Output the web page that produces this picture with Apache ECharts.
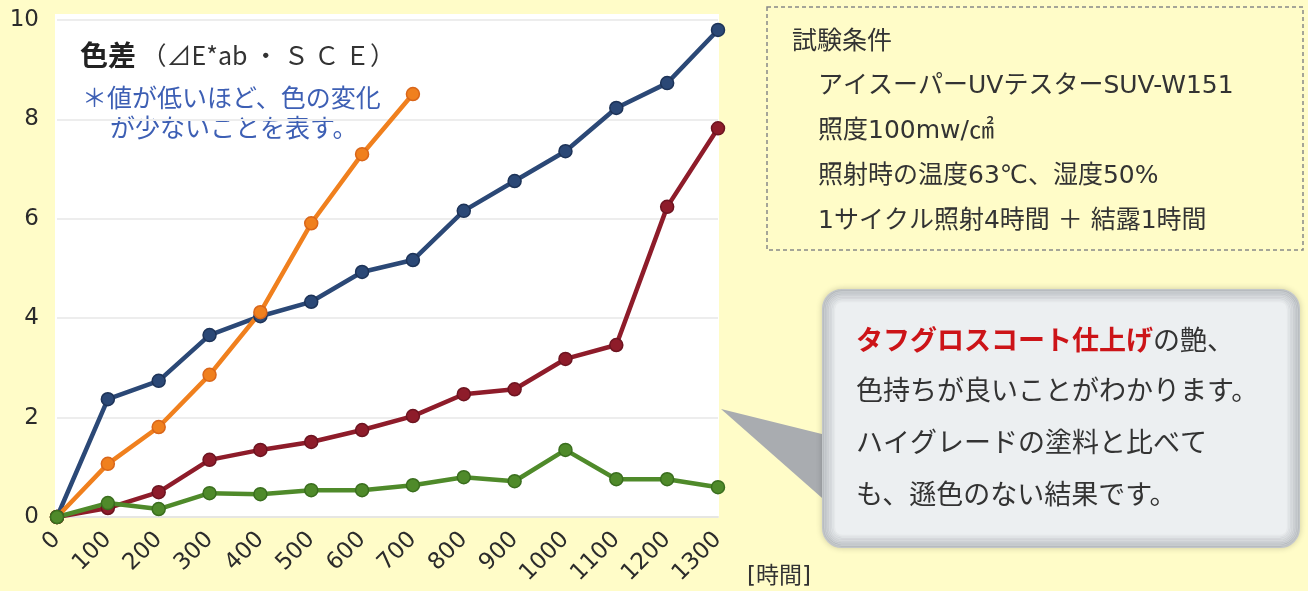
<!DOCTYPE html>
<html>
<head>
<meta charset="utf-8">
<script src="https://cdn.jsdelivr.net/npm/echarts@6/dist/echarts.min.js"></script>
<style>
  html, body { margin: 0; padding: 0; background: #fffcc8; }
  #chart { width: 1308px; height: 591px; }
</style>
</head>
<body>
<div id="chart"></div>
<script>
const hours = ['0', '100', '200', '300', '400', '500', '600', '700', '800', '900', '1000', '1100', '1200', '1300']
const yTicks = [0, 2, 4, 6, 8, 10]
// 系列ごとの色差
const navyValues = [0, 2.37, 2.74, 3.66, 4.04, 4.33, 4.93, 5.17, 6.16, 6.76, 7.36, 8.23, 8.73, 9.8]
const orangeValues = [0, 1.07, 1.81, 2.86, 4.12, 5.91, 7.3, 8.51]
const redValues = [0, 0.18, 0.5, 1.15, 1.35, 1.51, 1.75, 2.03, 2.47, 2.57, 3.18, 3.46, 6.24, 7.82]
const greenValues = [0, 0.28, 0.16, 0.48, 0.46, 0.54, 0.54, 0.64, 0.8, 0.72, 1.35, 0.76, 0.76, 0.6]
const conditions = [
  'アイスーパーUVテスターSUV-W151',
  '照度100mw/㎠',
  '照射時の温度63℃、湿度50%',
  '1サイクル照射4時間 ＋ 結露1時間',
]
const calloutLines = [
  '色持ちが良いことがわかります。',
  'ハイグレードの塗料と比べて',
  'も、遜色のない結果です。',
]

const font = '"DejaVu Sans", "Noto Sans CJK JP", sans-serif'
const jpFont = '"Noto Sans CJK JP", sans-serif'

function lineSeries(name, data, color, border) {
  return {
    name: name,
    type: 'line',
    data: data,
    symbol: 'circle',
    symbolSize: 13,
    lineStyle: { color: color, width: 4.5 },
    itemStyle: { color: color, borderColor: border, borderWidth: 1.5 },
    animation: false,
  }
}

function textEl(text, x, y, size, color) {
  return {
    type: 'text',
    style: {
      text: text, x: x, y: y, fontSize: size, fill: color || '#333',
      fontFamily: font, verticalAlign: 'middle',
    },
  }
}

// 吹き出しの縁のぼかし（内側へ薄くなる枠線を重ねる）
const edgeRings = []
for (let k = 0; k < 8; k++) {
  const d = k * 1.6 + 1
  edgeRings.push({
    type: 'rect',
    shape: { x: 822 + d, y: 289 + d, width: 478 - 2 * d, height: 259 - 2 * d, r: Math.max(20 - d, 6) },
    style: { fill: 'none', stroke: 'rgba(135,140,146,' + (0.42 - k * 0.05) + ')', lineWidth: 2 },
  })
}

const myChart = echarts.init(document.getElementById('chart'))
const option = {
  backgroundColor: '#fffcc8',
  textStyle: { fontFamily: font },
  grid: { left: 57, right: 590, top: 20, bottom: 74 },
  xAxis: {
    type: 'category',
    boundaryGap: false,
    data: hours,
    axisLine: { show: true, lineStyle: { color: '#e6e6e2', width: 2 } },
    axisTick: { show: false },
    axisLabel: {
      rotate: 45,
      margin: 19,
      fontSize: 23,
      color: '#2b2b2b',
      fontFamily: font,
    },
  },
  yAxis: {
    type: 'value',
    min: yTicks[0],
    max: yTicks[yTicks.length - 1],
    interval: 2,
    axisLine: { show: false },
    axisTick: { show: false },
    splitLine: { lineStyle: { color: '#ededed', width: 2 } },
    axisLabel: {
      margin: 18,
      fontSize: 23,
      color: '#2b2b2b',
      fontFamily: font,
    },
  },
  graphic: [
    // 白いプロット背景
    {
      type: 'rect',
      z: -10,
      shape: { x: 55, y: 14, width: 664, height: 504 },
      style: { fill: '#ffffff' },
    },
    {
      type: 'text',
      style: {
        x: 80, y: 55, verticalAlign: 'middle',
        text: '{b|色差}{n| （⊿E*ab ・ Ｓ Ｃ Ｅ）}',
        rich: {
          b: { fontSize: 28, fontWeight: 'bold', fill: '#222', fontFamily: jpFont },
          n: { fontSize: 25, fill: '#333', fontFamily: jpFont },
        },
      },
    },
    textEl('＊値が低いほど、色の変化', 82, 100, 25, '#3d5fb4'),
    textEl('が少ないことを表す。', 110, 130, 25, '#3d5fb4'),
    // 試験条件の枠
    {
      type: 'rect',
      shape: { x: 767, y: 7, width: 536, height: 243 },
      style: { fill: 'none', stroke: '#888', lineWidth: 1.5, lineDash: [4, 3] },
    },
    textEl('試験条件', 792, 42, 25),
    ...conditions.map((t, i) => textEl(t, 818, 86 + i * 45.3, 25)),
    // 吹き出し
    {
      type: 'polygon',
      shape: { points: [[721, 409], [830, 436], [830, 505]] },
      style: { fill: '#a9acb0' },
    },
    {
      type: 'rect',
      shape: { x: 822, y: 289, width: 478, height: 259, r: 20 },
      style: { fill: '#eceff1', shadowBlur: 6, shadowColor: 'rgba(0,0,0,0.2)' },
    },
    ...edgeRings,
    {
      type: 'text',
      style: {
        x: 856, y: 340, verticalAlign: 'middle',
        text: '{r|タフグロスコート仕上げ}{n|の艶、}',
        rich: {
          r: { fontSize: 27, fontWeight: 'bold', fill: '#cc1418', fontFamily: jpFont },
          n: { fontSize: 27, fill: '#333', fontFamily: jpFont },
        },
      },
    },
    ...calloutLines.map((t, i) => textEl(t, 856, 393 + i * 52, 27)),
    textEl('[時間]', 747, 577, 23),
  ],
  series: [
    lineSeries('navy', navyValues, '#2b4876', '#1d3358'),
    lineSeries('orange', orangeValues, '#f0801e', '#d9661a'),
    lineSeries('red', redValues, '#8e1c2a', '#6d1420'),
    lineSeries('green', greenValues, '#4f8a2a', '#3a6e1e'),
  ],
}
myChart.setOption(option)
</script>
</body>
</html>
